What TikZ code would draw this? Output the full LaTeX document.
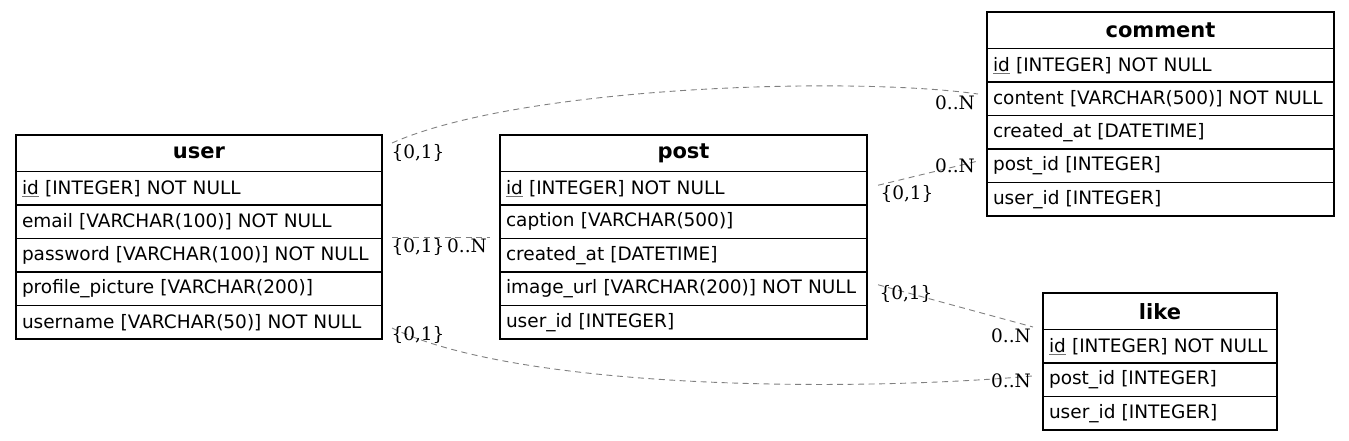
\documentclass[tikz,border=0pt]{standalone}
\usepackage{fontspec}
\setmainfont{DejaVu Sans}
\newfontfamily\cardfont{DejaVu Serif}
\usetikzlibrary{positioning}
\newcommand\FS{\fontsize{18.5}{22}\selectfont}
\newcommand\pkey[1]{\textcolor{black!55}{\underline{\textcolor{black}{#1}}}}

\begin{document}
\begin{tikzpicture}[x=1pt,y=-1pt,node distance=0pt,line width=1.1pt]

  \tikzstyle{table}=[draw,anchor=north west,inner sep=0pt,outer sep=0pt,minimum height=36.5pt,
                     font=\fontsize{21}{25}\selectfont\bfseries]
  \tikzstyle{field}=[draw,inner xsep=6pt,inner ysep=0pt,outer sep=0pt,minimum height=33.5pt,align=left,font=\FS]
  \tikzstyle{card}=[inner sep=0pt,font=\cardfont\FS]
  \tikzstyle{rel}=[draw=black!50,line width=0.9pt,dash pattern=on 6pt off 4.5pt]

  \useasboundingbox (0,0) rectangle (1349,440);

  % user
  \node[table,minimum width=366pt] (user) at (16,135) {user};
  \node[field,text width=354pt,below=of user]          (user-id)       {\pkey{id} [INTEGER] NOT NULL};
  \node[field,text width=354pt,below=of user-id]       (user-email)    {email [VARCHAR(100)] NOT NULL};
  \node[field,text width=354pt,below=of user-email]    (user-password) {password [VARCHAR(100)] NOT NULL};
  \node[field,text width=354pt,below=of user-password] (user-picture)  {profile\_picture [VARCHAR(200)]};
  \node[field,text width=354pt,below=of user-picture]  (user-username) {username [VARCHAR(50)] NOT NULL};

  % post
  \node[table,minimum width=367pt] (post) at (500,135) {post};
  \node[field,text width=355pt,below=of post]         (post-id)      {\pkey{id} [INTEGER] NOT NULL};
  \node[field,text width=355pt,below=of post-id]      (post-caption) {caption [VARCHAR(500)]};
  \node[field,text width=355pt,below=of post-caption] (post-created) {created\_at [DATETIME]};
  \node[field,text width=355pt,below=of post-created] (post-image)   {image\_url [VARCHAR(200)] NOT NULL};
  \node[field,text width=355pt,below=of post-image]   (post-user)    {user\_id [INTEGER]};

  % comment
  \node[table,minimum width=347pt] (comment) at (987,12) {comment};
  \node[field,text width=335pt,below=of comment]         (comment-id)      {\pkey{id} [INTEGER] NOT NULL};
  \node[field,text width=335pt,below=of comment-id]      (comment-content) {content [VARCHAR(500)] NOT NULL};
  \node[field,text width=335pt,below=of comment-content] (comment-created) {created\_at [DATETIME]};
  \node[field,text width=335pt,below=of comment-created] (comment-post)    {post\_id [INTEGER]};
  \node[field,text width=335pt,below=of comment-post]    (comment-user)    {user\_id [INTEGER]};

  % like
  \node[table,minimum width=234pt] (like) at (1043,293) {like};
  \node[field,text width=222pt,below=of like]      (like-id)   {\pkey{id} [INTEGER] NOT NULL};
  \node[field,text width=222pt,below=of like-id]   (like-post) {post\_id [INTEGER]};
  \node[field,text width=222pt,below=of like-post] (like-user) {user\_id [INTEGER]};

  % relations
  \path[rel] ([shift={(10pt,-8pt)}]user.north east)
             .. controls (520,86) and (850,76) .. ([shift={(-9pt,4.75pt)}]comment-content.west);
  \path[rel] ([shift={(10pt,1.5pt)}]user-email.south east) -- ([shift={(-10pt,1.5pt)}]post-caption.south west);
  \path[rel] ([shift={(11pt,3pt)}]post-id.east) -- ([shift={(-9pt,4.75pt)}]comment-post.west);
  \path[rel] ([shift={(11pt,4pt)}]post-image.east) -- ([shift={(-10pt,2.5pt)}]like.south west);
  \path[rel] ([shift={(10pt,-5.75pt)}]user-username.east)
             .. controls (520,390) and (850,392) .. ([shift={(-11pt,3.75pt)}]like-post.west);

  \node[card] (user-comment-t) at (418,153) {\{0,1\}};
  \node[card] (user-comment-h) at (955,103) {0..N};
  \node[card] (user-post-t)    at (418,247) {\{0,1\}};
  \node[card] (user-post-h)    at (467,246) {0..N};
  \node[card] (post-comment-t) at (907,194) {\{0,1\}};
  \node[card] (post-comment-h) at (955,166) {0..N};
  \node[card] (post-like-t)    at (906,294) {\{0,1\}};
  \node[card] (post-like-h)    at (1011,336) {0..N};
  \node[card] (user-like-t)    at (418,335) {\{0,1\}};
  \node[card] (user-like-h)    at (1011,381) {0..N};
\end{tikzpicture}
\end{document}
